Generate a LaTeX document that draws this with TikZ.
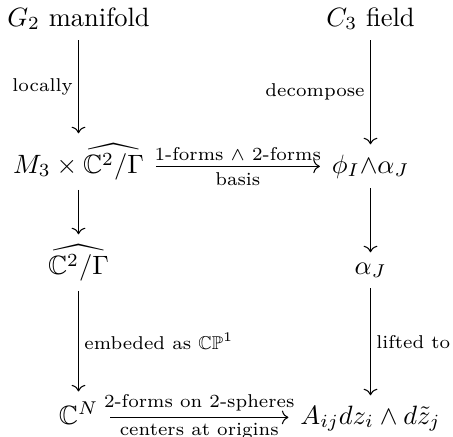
\documentclass[tikz,border=0pt]{standalone}
\usepackage{amsmath,amssymb}
\usetikzlibrary{arrows.meta}
\begin{document}
\begin{tikzpicture}[x=0.37736pt,y=-0.37736pt,
  cell/.style={anchor=base,inner xsep=1ex,inner ysep=0.85ex},
  arr/.style={-{Computer Modern Rightarrow},line width=0.4pt},
  lab/.style={font=\scriptsize,inner sep=2pt}]
\useasboundingbox (0,0) rectangle (453,436);
% left column
\node[cell] (g2) at (78.5,26) {$G_2$ manifold};
\node[cell] (m3) at (78.5,173) {$M_3\times\widehat{\mathbb{C}^2/\Gamma}$};
\node[cell] (c2) at (78.5,274) {$\widehat{\mathbb{C}^2/\Gamma}$};
\node[cell] (cn) at (78.5,424) {$\mathbb{C}^N$};
% right column
\node[cell] (c3) at (370.5,26) {$C_3$ field};
\node[cell] (phi) at (370.5,173) {$\phi_I{\wedge}\alpha_J$};
\node[cell] (al) at (370.5,274) {$\alpha_J$};
\node[cell] (aij) at (370.5,424) {$A_{ij}dz_i\wedge d\tilde{z}_j$};
% vertical arrows
\draw[arr] (g2.south) -- node[lab,left] {locally} (m3.north);
\draw[arr] (m3.south) -- (c2.north);
\draw[arr] (c2.south) -- node[lab,right] {embeded as $\mathbb{CP}^1$} (cn.north);
\draw[arr] (c3.south) -- node[lab,left] {decompose} (phi.north);
\draw[arr] (phi.south) -- (al.north);
\draw[arr] (al.south) -- node[lab,right] {lifted to} (aij.north);
% horizontal arrows
\draw[arr,transform canvas={yshift=2.5pt}] (m3.base east) --
  node[lab,above] {1-forms $\wedge$ 2-forms}
  node[lab,below] {basis} (phi.base west);
\draw[arr,transform canvas={yshift=2.5pt}] (cn.base east) --
  node[lab,above] {2-forms on 2-spheres}
  node[lab,below] {centers at origins} (aij.base west);
\end{tikzpicture}
\end{document}
